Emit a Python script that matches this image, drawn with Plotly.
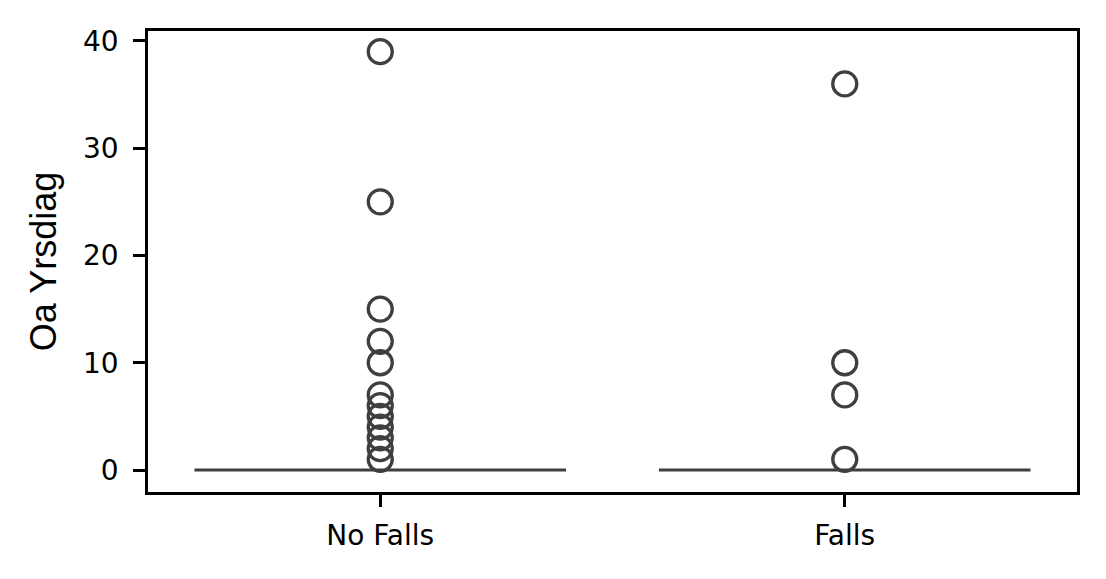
import plotly.graph_objects as go

# Data
categories = ["No Falls", "Falls"]
no_falls_outliers = [39, 25, 15, 12, 10, 7, 6, 5, 4, 3, 2, 1]
falls_outliers = [36, 10, 7, 1]
no_falls_zero_count = 150
falls_zero_count = 40
y_ticks = [0, 10, 20, 30, 40]

no_falls_values = [0] * no_falls_zero_count + no_falls_outliers
falls_values = [0] * falls_zero_count + falls_outliers

x_vals = [categories[0]] * len(no_falls_values) + [categories[1]] * len(falls_values)
y_vals = no_falls_values + falls_values

dark = "#3f3f3f"

fig = go.Figure()
fig.add_trace(go.Box(
    x=x_vals,
    y=y_vals,
    boxpoints="outliers",
    jitter=0,
    pointpos=0,
    fillcolor="rgba(80,110,160,0.6)",
    line=dict(color=dark, width=3.2),
    whiskerwidth=0.5,
    marker=dict(symbol="circle-open", size=24, color=dark,
                line=dict(width=3.3, color=dark)),
    showlegend=False,
))

# page body has an 8px margin; figure is sized to fit the 1106x579 window
fig.update_layout(
    width=1098, height=571,
    margin=dict(l=140, r=29, t=23, b=87),
    paper_bgcolor="white", plot_bgcolor="white",
    boxgap=0.2, boxgroupgap=0,
    font=dict(family="DejaVu Sans", color="black"),
)
fig.update_xaxes(
    type="category",
    categoryorder="array", categoryarray=categories,
    range=[-0.5, 1.5],
    showline=True, mirror=True, linecolor="black", linewidth=2.6,
    ticks="outside", ticklen=12, tickwidth=2.6, tickcolor="black",
    ticklabelstandoff=5,
    showgrid=False, zeroline=False,
    tickfont=dict(family="DejaVu Sans", size=28, color="black"),
)
fig.update_yaxes(
    range=[-2.05, 40.93],
    tickvals=y_ticks,
    showline=True, mirror=True, linecolor="black", linewidth=2.6,
    ticks="outside", ticklen=12, tickwidth=2.6, tickcolor="black",
    ticklabelstandoff=9,
    showgrid=False, zeroline=False,
    tickfont=dict(family="DejaVu Sans", size=28, color="black"),
    title=dict(text="Oa Yrsdiag", standoff=16,
               font=dict(family="Liberation Sans", size=36, color="black")),
)

fig.write_html("out.html")
